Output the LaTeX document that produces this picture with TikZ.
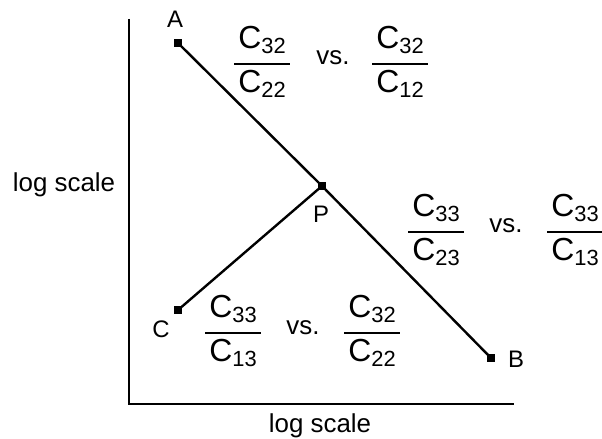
\documentclass[tikz,border=0pt]{standalone}
\usepackage{fontspec}
\setmainfont{Liberation Sans}
% C with a large subscript, as in the figure
\newcommand{\Csub}[1]{{\fontsize{32}{32}\selectfont C}\raisebox{-5pt}{\fontsize{22}{22}\selectfont #1}}
% stacked ratio with a thick bar
\newcommand{\ratio}[2]{\vbox{\offinterlineskip\halign{\hfil\kern4pt##\kern4pt\hfil\cr
  #1\cr\noalign{\kern9pt\hrule height 2.2pt\kern5pt}#2\cr}}}
\begin{document}
\begin{tikzpicture}[x=1bp,y=-1bp,
  axis/.style={line width=2.4pt},
  path/.style={line width=2.4pt},
  dot/.style={rectangle,fill,inner sep=0pt,minimum size=8pt},
  lbl/.style={anchor=base,inner sep=0pt,font=\fontsize{24}{28}\selectfont},
  big/.style={anchor=base,inner sep=0pt,font=\fontsize{26}{30}\selectfont},
  frac/.style={inner sep=0pt}]
\useasboundingbox (0,0) rectangle (602,439);
% axes
\coordinate (top) at (129,19);
\coordinate (origin) at (129,404);
\coordinate (right) at (514,404);
\draw[axis] (top) -- (origin) -- (right);
\node[big] (xlab) at (320,432) {log scale};
\node[big] (ylab) at (64,192) {log scale};
% points
\node[dot] (A) at (178,43) {};
\node[dot] (P) at (322,186) {};
\node[dot] (B) at (491,358) {};
\node[dot] (C) at (178,310) {};
\draw[path] (A.center) -- (P.center) -- (B.center);
\draw[path] (C.center) -- (P.center);
\node[lbl] (Alab) at (175,28) {A};
\node[lbl] (Plab) at (321,223) {P};
\node[lbl] (Blab) at (516,367) {B};
\node[lbl] (Clab) at (161,337) {C};
% ratios
\node[frac] (r1) at (262,62) {\ratio{\Csub{32}}{\Csub{22}}};
\node[big] (vs1) at (333,65) {vs.};
\node[frac] (r2) at (400,62) {\ratio{\Csub{32}}{\Csub{12}}};
\node[frac] (r3) at (436,230) {\ratio{\Csub{33}}{\Csub{23}}};
\node[big] (vs2) at (506,233) {vs.};
\node[frac] (r4) at (575,230) {\ratio{\Csub{33}}{\Csub{13}}};
\node[frac] (r5) at (233,331) {\ratio{\Csub{33}}{\Csub{13}}};
\node[big] (vs3) at (303,334) {vs.};
\node[frac] (r6) at (372,331) {\ratio{\Csub{32}}{\Csub{22}}};
\end{tikzpicture}
\end{document}
